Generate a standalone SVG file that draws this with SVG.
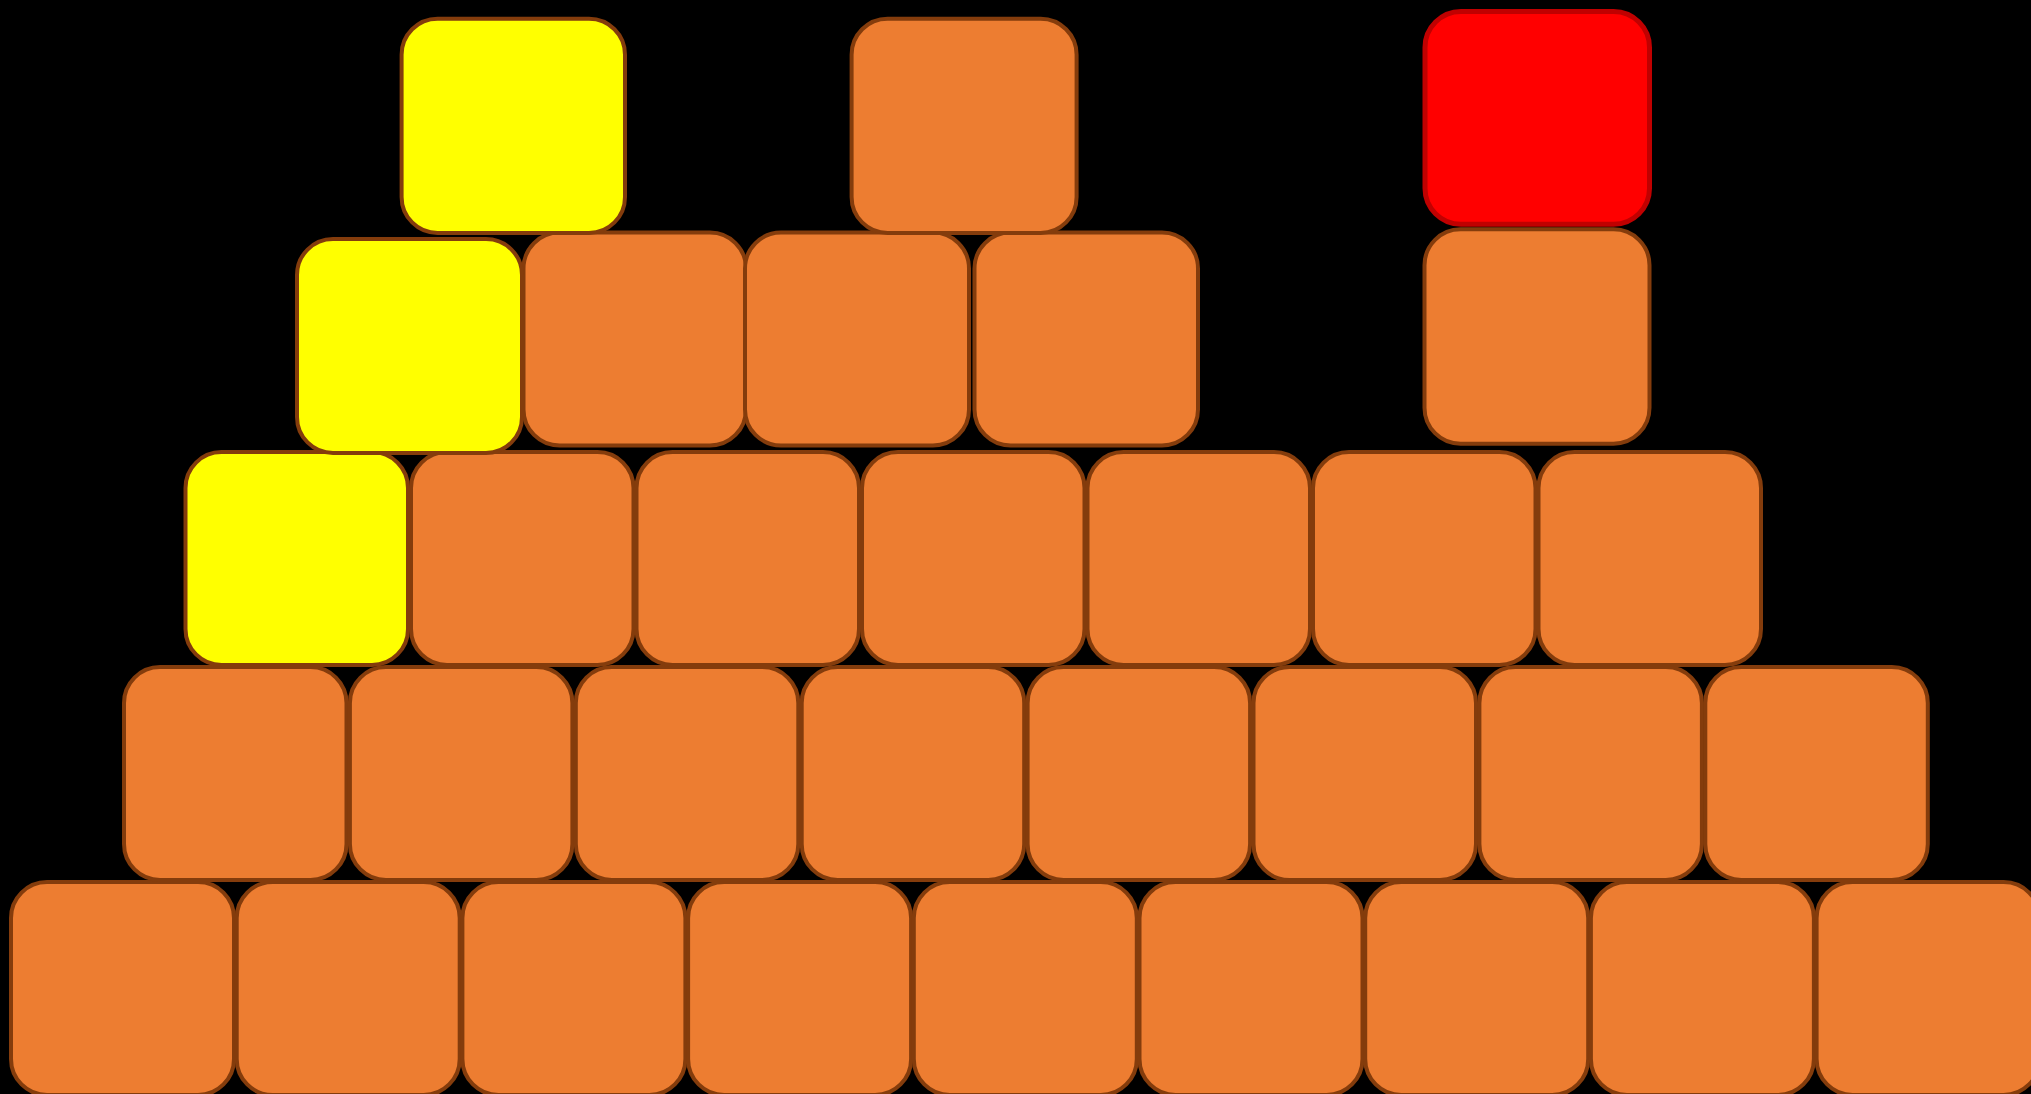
<svg xmlns="http://www.w3.org/2000/svg" width="2031" height="1094" viewBox="0 0 2031 1094">
<style>
.b{stroke-width:4;rx:36;ry:36}
.o{fill:#ED7D31;stroke:#843C0C}
.y{fill:#FFFF00;stroke:#843C0C}
.r{fill:#FF0000;stroke:#C00000;stroke-width:5}
</style>
<rect x="0" y="0" width="2031" height="1094" fill="#000000"/>
<g id="row5">
<g id="b5-0"><rect class="b o" x="11" y="882" width="223" height="213"/></g>
<g id="b5-1"><rect class="b o" x="236.7" y="882" width="223" height="213"/></g>
<g id="b5-2"><rect class="b o" x="462.4" y="882" width="223" height="213"/></g>
<g id="b5-3"><rect class="b o" x="688.1" y="882" width="223" height="213"/></g>
<g id="b5-4"><rect class="b o" x="913.8" y="882" width="223" height="213"/></g>
<g id="b5-5"><rect class="b o" x="1139.5" y="882" width="223" height="213"/></g>
<g id="b5-6"><rect class="b o" x="1365.2" y="882" width="223" height="213"/></g>
<g id="b5-7"><rect class="b o" x="1590.9" y="882" width="223" height="213"/></g>
<g id="b5-8"><rect class="b o" x="1816.6" y="882" width="223" height="213"/></g>
</g>
<g id="row4">
<g id="b4-0"><rect class="b o" x="124" y="667" width="222.5" height="213"/></g>
<g id="b4-1"><rect class="b o" x="349.9" y="667" width="222.5" height="213"/></g>
<g id="b4-2"><rect class="b o" x="575.8" y="667" width="222.5" height="213"/></g>
<g id="b4-3"><rect class="b o" x="801.7" y="667" width="222.5" height="213"/></g>
<g id="b4-4"><rect class="b o" x="1027.6" y="667" width="222.5" height="213"/></g>
<g id="b4-5"><rect class="b o" x="1253.5" y="667" width="222.5" height="213"/></g>
<g id="b4-6"><rect class="b o" x="1479.4" y="667" width="222.5" height="213"/></g>
<g id="b4-7"><rect class="b o" x="1705.3" y="667" width="222.5" height="213"/></g>
</g>
<g id="row3">
<g id="b3-0"><rect class="b y" x="185.5" y="452" width="222.5" height="213"/></g>
<g id="b3-1"><rect class="b o" x="411" y="452" width="222.5" height="213"/></g>
<g id="b3-2"><rect class="b o" x="636.5" y="452" width="222.5" height="213"/></g>
<g id="b3-3"><rect class="b o" x="862" y="452" width="222.5" height="213"/></g>
<g id="b3-4"><rect class="b o" x="1087.5" y="452" width="222.5" height="213"/></g>
<g id="b3-5"><rect class="b o" x="1313" y="452" width="222.5" height="213"/></g>
<g id="b3-6"><rect class="b o" x="1538.5" y="452" width="222.5" height="213"/></g>
</g>
<g id="row2">
<g id="b2-1"><rect class="b o" x="523.5" y="232.5" width="222.5" height="213"/></g>
<g id="b2-2"><rect class="b o" x="745" y="232.5" width="224" height="213"/></g>
<g id="b2-3"><rect class="b o" x="974.5" y="232.5" width="223.5" height="213"/></g>
<g id="b2-4"><rect class="b o" x="1424.5" y="229.3" width="225" height="214.4"/></g>
<g id="b2-0"><rect class="b y" x="297" y="239" width="225" height="214"/></g>
</g>
<g id="row1">
<g id="b1-0"><rect class="b y" x="401.6" y="18.7" width="223.4" height="214.3"/></g>
<g id="b1-1"><rect class="b o" x="851.6" y="18.7" width="225" height="214.3"/></g>
<g id="b1-2"><rect class="b r" x="1425" y="11.5" width="224.5" height="212.7"/></g>
</g>
<g id="connectors"/>
</svg>
